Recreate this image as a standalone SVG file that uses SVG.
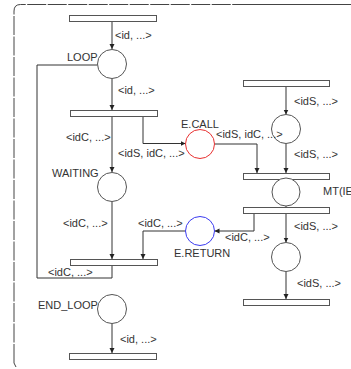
<svg xmlns="http://www.w3.org/2000/svg" width="351" height="369" viewBox="0 0 351 369">
<style>
text{font-family:"Liberation Sans",Arial,sans-serif;font-size:11px;fill:#333}
.t{fill:#fff;stroke:#555;stroke-width:1}
.p{fill:#fff;stroke:#555;stroke-width:1}
.red{stroke:#e83030}
.blue{stroke:#3a3af0}
.a{fill:none;stroke:#333;stroke-width:1}
.b{fill:none;stroke:#444;stroke-width:1}
</style>
<defs>
<marker id="ah" markerUnits="userSpaceOnUse" markerWidth="6" markerHeight="6" refX="5" refY="2.5" orient="auto">
<path d="M0,0 L5,2.5 L0,5 Z" fill="#222"/>
</marker>
</defs>
<g id="frame">
<path class="b" d="M14,363 L14,11 Q14,4.5 20.5,4.5 L237,4.5" stroke-dasharray="19,1.5"/>
<path class="b" d="M237,4.5 L351,4.5"/>
<path class="b" d="M14,363 L16,367" stroke="#888"/>
</g>
<g id="connectors">
<path class="a" d="M112,22 L112,49" marker-end="url(#ah)"/>
<path class="a" d="M112,79 L112,110" marker-end="url(#ah)"/>
<path class="a" d="M112,116 L112,172" marker-end="url(#ah)"/>
<path class="a" d="M143,116 L143,143.5 L185.5,143.5" marker-end="url(#ah)"/>
<path class="a" d="M214.5,144 L257,144 L257,173" marker-end="url(#ah)"/>
<path class="a" d="M286,86 L286,114.5" marker-end="url(#ah)"/>
<path class="a" d="M286,143.5 L286,173" marker-end="url(#ah)"/>
<path class="a" d="M286,206 L286,207"/>
<path class="a" d="M254,213 L254,231 L214.5,231" marker-end="url(#ah)"/>
<path class="a" d="M185.5,231 L143,231 L143,259" marker-end="url(#ah)"/>
<path class="a" d="M112,201.5 L112,259" marker-end="url(#ah)"/>
<path class="a" d="M112,265 L112,278 L37,278 L37,65 L97.5,65"/>
<path class="a" d="M286,213 L286,242.5" marker-end="url(#ah)"/>
<path class="a" d="M286,271.5 L286,299" marker-end="url(#ah)"/>
<path class="a" d="M112,323.5 L112,353" marker-end="url(#ah)"/>
</g>
<g id="t_top"><rect class="t" x="69.5" y="15.5" width="87" height="6"/></g>
<g id="loop"><circle class="p" cx="112" cy="64" r="14.5"/><text x="67" y="61">LOOP</text></g>
<g id="t_call"><rect class="t" x="70.5" y="110.5" width="87" height="6"/></g>
<g id="waiting"><circle class="p" cx="112" cy="187" r="14.5"/><text x="52" y="177">WAITING</text></g>
<g id="ecall"><circle class="p red" cx="200" cy="144" r="14.5"/><text x="181" y="128">E.CALL</text></g>
<g id="t_srv_top"><rect class="t" x="243.5" y="80.5" width="86" height="6"/></g>
<g id="srv_idle"><circle class="p" cx="286" cy="129" r="14.5"/></g>
<g id="t_mt_in"><rect class="t" x="243.5" y="173.5" width="86" height="6"/></g>
<g id="mt"><circle class="p" cx="286" cy="192" r="14"/><text x="323" y="195">MT(IE</text></g>
<g id="t_mt_out"><rect class="t" x="243.5" y="207.5" width="86" height="6"/></g>
<g id="ereturn"><circle class="p blue" cx="200" cy="231" r="14.5"/><text x="174" y="257">E.RETURN</text></g>
<g id="t_return"><rect class="t" x="70.5" y="259.5" width="87" height="6"/></g>
<g id="srv_done"><circle class="p" cx="286" cy="257" r="14.5"/></g>
<g id="t_srv_bottom"><rect class="t" x="243.5" y="299.5" width="86" height="6"/></g>
<g id="end_loop"><circle class="p" cx="112" cy="309" r="14.5"/><text x="38" y="309">END_LOOP</text></g>
<g id="t_end"><rect class="t" x="69.5" y="353.5" width="87" height="6"/></g>
<g id="labels">
<text x="115" y="39">&lt;id, ...&gt;</text>
<text x="118" y="94">&lt;id, ...&gt;</text>
<text x="66" y="141">&lt;idC, ...&gt;</text>
<text x="118" y="157">&lt;idS, idC, ...&gt;</text>
<text x="216" y="138">&lt;idS, idC, ...&gt;</text>
<text x="294" y="105">&lt;idS, ...&gt;</text>
<text x="294" y="158">&lt;idS, ...&gt;</text>
<text x="294" y="230">&lt;idS, ...&gt;</text>
<text x="225" y="241">&lt;idC, ...&gt;</text>
<text x="297" y="287">&lt;idS, ...&gt;</text>
<text x="63" y="227">&lt;idC, ...&gt;</text>
<text x="138" y="227">&lt;idC, ...&gt;</text>
<text x="48" y="276">&lt;idC, ...&gt;</text>
<text x="120" y="343">&lt;id, ...&gt;</text>
</g>
</svg>
